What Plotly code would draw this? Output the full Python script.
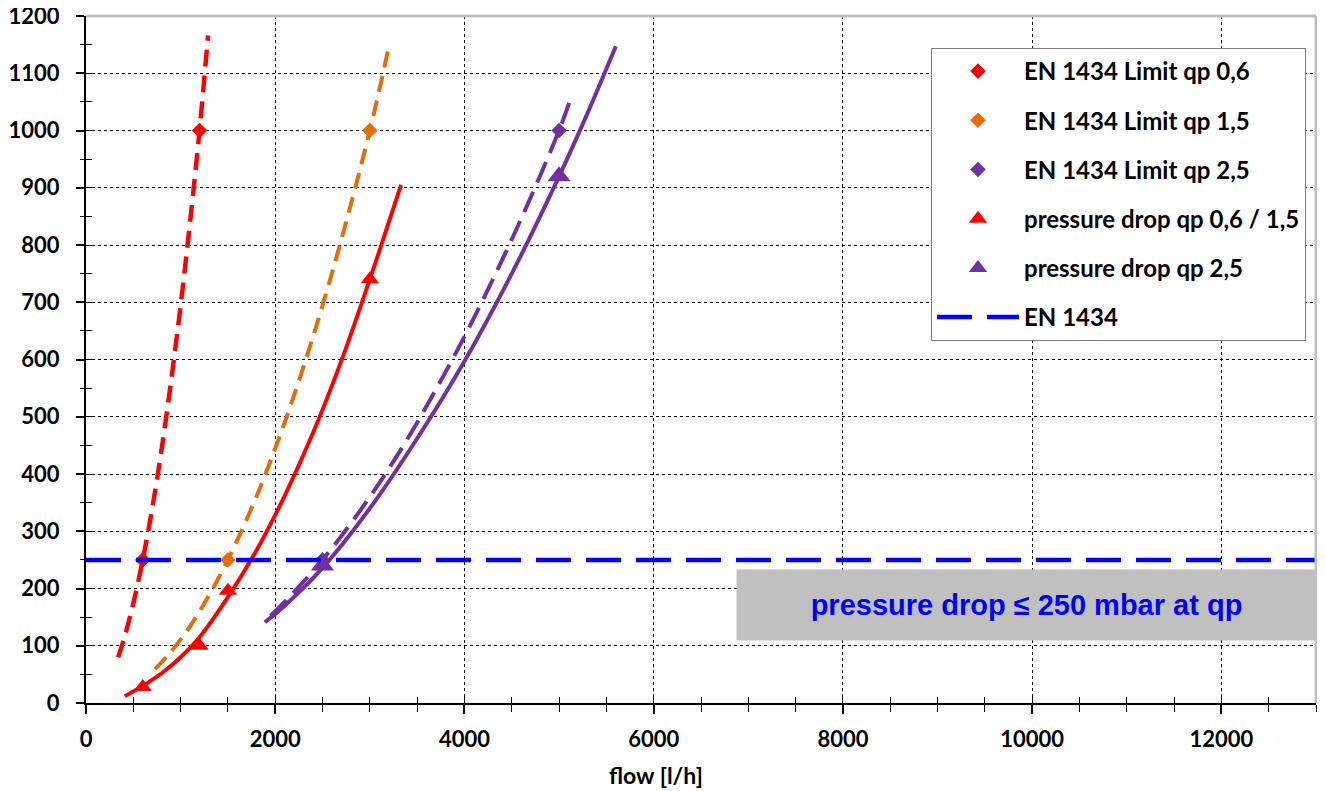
import plotly.graph_objects as go

# ---- data ----
# EN 1434 limit points (at qp and 2*qp)
lim06_x = [600, 1200]
lim06_y = [250, 1000]
lim15_x = [1500, 3000]
lim15_y = [250, 1000]
lim25_x = [2500, 5000]
lim25_y = [250, 1000]

# trend curves through the limit points (dashed)
lim06_tx = [340, 400, 500, 600, 700, 800, 900, 1000, 1100, 1200, 1290]
lim06_ty = [80, 111, 174, 250, 340, 444, 563, 694, 840, 1000, 1166]
lim15_tx = [730, 900, 1100, 1300, 1500, 1800, 2100, 2400, 2700, 3000, 3190]
lim15_ty = [59, 90, 134, 188, 250, 360, 490, 640, 810, 1000, 1138]
lim25_tx = [1950, 2200, 2500, 2800, 3100, 3400, 3700, 4000, 4300, 4600, 5000, 5110]
lim25_ty = [152, 194, 250, 314, 384, 462, 548, 640, 740, 846, 1000, 1050]

# measured pressure drop
pd0615_x = [600, 1200, 1500, 3000]
pd0615_y = [28, 100, 196, 740]
pd25_x = [2500, 5000]
pd25_y = [240, 920]

# pressure drop trend curves (solid)
pd0615_tx = [410, 600, 800, 1000, 1200, 1500, 1800, 2100, 2400, 2700, 3000, 3330]
pd0615_ty = [12, 30, 52, 80, 115, 185, 266, 362, 472, 598, 740, 905]
pd25_tx = [1890, 2100, 2500, 3000, 3500, 4000, 4500, 5000, 5300, 5600]
pd25_ty = [141, 170, 236, 340, 462, 597, 750, 920, 1030, 1147]

# EN 1434 limit line
en_x = [0, 13000]
en_y = [250, 250]

RED = "#FF0000"
ORANGE = "#E46C0A"
PURPLE = "#7030A0"
BLUE = "#0000FF"

fig = go.Figure()

# trend lines (not in legend)
fig.add_trace(go.Scatter(x=lim06_tx, y=lim06_ty, mode="lines", line=dict(color=RED, width=4.5, dash="17px,9px", shape="spline"), showlegend=False, hoverinfo="skip"))
fig.add_trace(go.Scatter(x=lim15_tx, y=lim15_ty, mode="lines", line=dict(color=ORANGE, width=4, dash="16px,9px", shape="spline"), showlegend=False, hoverinfo="skip"))
fig.add_trace(go.Scatter(x=lim25_tx, y=lim25_ty, mode="lines", line=dict(color=PURPLE, width=4, dash="22px,10px", shape="spline"), showlegend=False, hoverinfo="skip"))
fig.add_trace(go.Scatter(x=pd0615_tx, y=pd0615_ty, mode="lines", line=dict(color=RED, width=4, shape="spline"), showlegend=False, hoverinfo="skip"))
fig.add_trace(go.Scatter(x=pd25_tx, y=pd25_ty, mode="lines", line=dict(color=PURPLE, width=4, shape="spline"), showlegend=False, hoverinfo="skip"))

# legend traces
fig.add_trace(go.Scatter(x=lim06_x, y=lim06_y, mode="markers", name="EN 1434 Limit qp 0,6",
                         marker=dict(symbol="diamond", size=12, color=RED), legendgroup="a"))
fig.add_trace(go.Scatter(x=lim15_x, y=lim15_y, mode="markers", name="EN 1434 Limit qp 1,5",
                         marker=dict(symbol="diamond", size=12, color=ORANGE), legendgroup="b"))
fig.add_trace(go.Scatter(x=lim25_x, y=lim25_y, mode="markers", name="EN 1434 Limit qp 2,5",
                         marker=dict(symbol="diamond", size=12, color=PURPLE), legendgroup="c"))
fig.add_trace(go.Scatter(x=pd0615_x, y=pd0615_y, mode="markers", name="pressure drop qp 0,6 / 1,5",
                         marker=dict(symbol="triangle-up", size=16, color=RED), legendgroup="d"))
fig.add_trace(go.Scatter(x=pd25_x, y=pd25_y, mode="markers", name="pressure drop qp 2,5",
                         marker=dict(symbol="triangle-up", size=20, color=PURPLE), legendgroup="e"))
fig.add_trace(go.Scatter(x=en_x, y=en_y, mode="lines", name="EN 1434",
                         line=dict(color=BLUE, width=4.5, dash="35px,15px"), legendgroup="f"))

TICKFONT = dict(family="Lato, Open Sans, sans-serif", size=22, color="black", weight="bold")

# page body has an 8px margin, so the figure is 8px smaller and margins shifted
fig.update_layout(
    width=1317, height=783,
    margin=dict(l=78, r=9, t=8, b=88, autoexpand=False),
    paper_bgcolor="white", plot_bgcolor="white",
    font=dict(family="Lato, sans-serif", color="black"),
    xaxis=dict(range=[0, 13000], dtick=2000, tick0=0, tickformat="d", showgrid=True, gridcolor="black", griddash="dot",
               gridwidth=1, zeroline=False, showline=True, linecolor="black", linewidth=2, automargin=False,
               ticks="outside", ticklen=9, tickwidth=1.5, tickcolor="black",
               minor=dict(dtick=500, ticks="outside", ticklen=7, tickwidth=1.2, tickcolor="black", showgrid=False),
               tickfont=TICKFONT, ticklabelstandoff=7, ticklabeloverflow="allow"),
    yaxis=dict(range=[0, 1200], dtick=100, tick0=0, tickformat="d", showgrid=True, gridcolor="black", griddash="dot",
               gridwidth=1, zeroline=False, showline=True, linecolor="black", linewidth=2, automargin=False,
               ticks="outside", ticklen=8, tickwidth=1.5, tickcolor="black",
               minor=dict(dtick=50, ticks="outside", ticklen=4, tickwidth=1.2, tickcolor="black", showgrid=False),
               tickfont=TICKFONT, ticklabelstandoff=12, ticklabeloverflow="allow"),
    xaxis2=dict(range=[0, 13000], overlaying="x", anchor="y", side="bottom", dtick=500, tick0=0,
                ticks="inside", ticklen=6, tickwidth=1.2, tickcolor="black", showticklabels=False,
                showgrid=False, zeroline=False, showline=False, automargin=False),
    yaxis2=dict(range=[0, 1200], overlaying="y", anchor="x", side="left", dtick=50, tick0=0,
                ticks="inside", ticklen=6, tickwidth=1.2, tickcolor="black", showticklabels=False,
                showgrid=False, zeroline=False, showline=False, automargin=False),
    legend=dict(x=0.687, y=0.9534, xanchor="left", yanchor="top", bgcolor="white",
                bordercolor="#7F7F7F", borderwidth=1, tracegroupgap=15, itemwidth=82,
                font=dict(family="Lato, sans-serif", size=24, color="black", weight="bold")),
    shapes=[
        dict(type="line", xref="paper", yref="paper", x0=0, x1=1, y0=1, y1=1, line=dict(color="#BFBFBF", width=3)),
        dict(type="line", xref="paper", yref="paper", x0=1, x1=1, y0=0, y1=1, line=dict(color="#BFBFBF", width=3)),
    ],
    annotations=[
        dict(x=9940, y=171, xref="x", yref="y", text="pressure drop ≤ 250 mbar at qp", showarrow=False,
             bgcolor="#C0C0C0", width=577, height=68, borderpad=1,
             font=dict(family="Liberation Sans, Arial, sans-serif", size=29, color=BLUE, weight="bold")),
        dict(x=0.4634, y=-0.105, xref="paper", yref="paper", yanchor="middle", text="flow [l/h]", showarrow=False,
             font=dict(family="Lato, sans-serif", size=23, color="black", weight="bold")),
    ],
)

# dummy invisible trace to activate overlay axes
fig.add_trace(go.Scatter(x=[None], y=[None], xaxis="x2", yaxis="y2", showlegend=False, hoverinfo="skip"))

fig.write_html("out.html")
